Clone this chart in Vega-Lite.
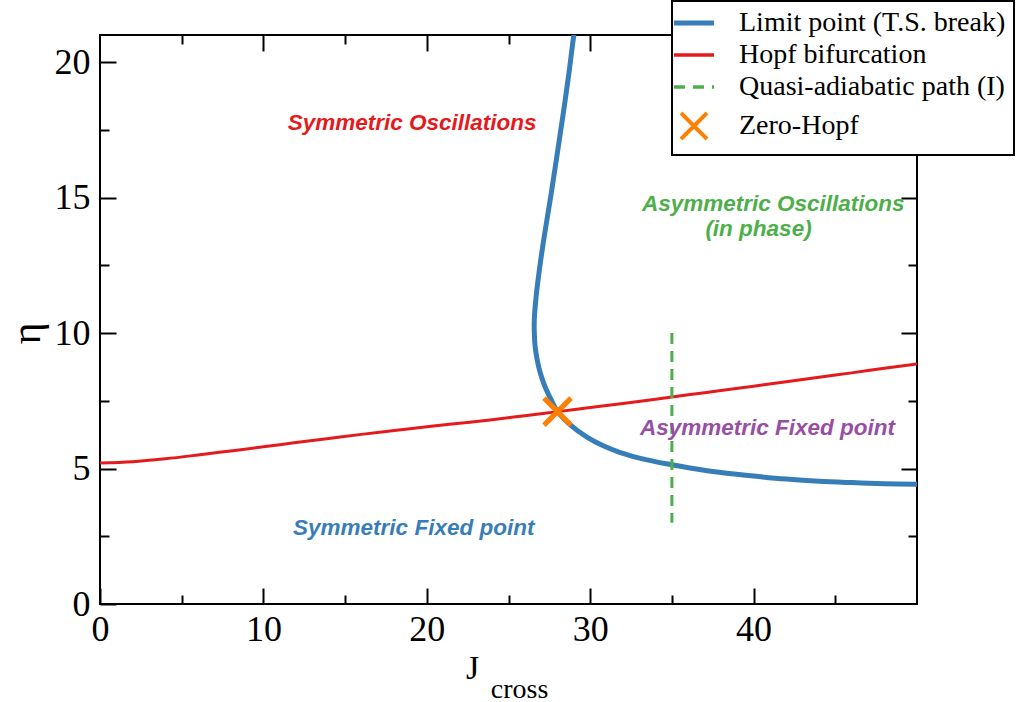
{
  "$schema": "https://vega.github.io/schema/vega-lite/v6.json",
  "width": 817,
  "height": 569,
  "autosize": {"type": "none"},
  "padding": {"left": 100, "top": 35, "right": 100, "bottom": 98},
  "background": "white",
  "config": {
    "view": {"stroke": "black", "strokeWidth": 2},
    "axis": {
      "domain": false,
      "grid": false,
      "tickColor": "black",
      "tickWidth": 2,
      "labelFont": "Liberation Serif",
      "labelFontSize": 36,
      "labelColor": "black",
      "labelFlush": false,
      "labelOverlap": false,
      "titleFont": "Liberation Serif",
      "titleColor": "black",
      "titleFontWeight": "normal"
    }
  },
  "datasets": {
    "limit": [
      {"i": 0, "x": 29.15, "y": 21.5, "series": "Limit point (T.S. break)"},
      {"i": 1, "x": 29.0, "y": 21.0, "series": "Limit point (T.S. break)"},
      {"i": 2, "x": 28.7, "y": 19.6, "series": "Limit point (T.S. break)"},
      {"i": 3, "x": 28.35, "y": 18.1, "series": "Limit point (T.S. break)"},
      {"i": 4, "x": 27.98, "y": 16.6, "series": "Limit point (T.S. break)"},
      {"i": 5, "x": 27.6, "y": 15.1, "series": "Limit point (T.S. break)"},
      {"i": 6, "x": 27.25, "y": 13.8, "series": "Limit point (T.S. break)"},
      {"i": 7, "x": 26.95, "y": 12.6, "series": "Limit point (T.S. break)"},
      {"i": 8, "x": 26.7, "y": 11.4, "series": "Limit point (T.S. break)"},
      {"i": 9, "x": 26.58, "y": 10.5, "series": "Limit point (T.S. break)"},
      {"i": 10, "x": 26.58, "y": 10.0, "series": "Limit point (T.S. break)"},
      {"i": 11, "x": 26.63, "y": 9.5, "series": "Limit point (T.S. break)"},
      {"i": 12, "x": 26.76, "y": 9.0, "series": "Limit point (T.S. break)"},
      {"i": 13, "x": 26.96, "y": 8.5, "series": "Limit point (T.S. break)"},
      {"i": 14, "x": 27.25, "y": 8.0, "series": "Limit point (T.S. break)"},
      {"i": 15, "x": 27.6, "y": 7.55, "series": "Limit point (T.S. break)"},
      {"i": 16, "x": 28.0, "y": 7.1, "series": "Limit point (T.S. break)"},
      {"i": 17, "x": 28.8, "y": 6.6, "series": "Limit point (T.S. break)"},
      {"i": 18, "x": 29.8, "y": 6.16, "series": "Limit point (T.S. break)"},
      {"i": 19, "x": 30.8, "y": 5.84, "series": "Limit point (T.S. break)"},
      {"i": 20, "x": 31.8, "y": 5.6, "series": "Limit point (T.S. break)"},
      {"i": 21, "x": 33.4, "y": 5.33, "series": "Limit point (T.S. break)"},
      {"i": 22, "x": 35.0, "y": 5.14, "series": "Limit point (T.S. break)"},
      {"i": 23, "x": 36.5, "y": 4.98, "series": "Limit point (T.S. break)"},
      {"i": 24, "x": 38.0, "y": 4.85, "series": "Limit point (T.S. break)"},
      {"i": 25, "x": 40.0, "y": 4.72, "series": "Limit point (T.S. break)"},
      {"i": 26, "x": 42.0, "y": 4.61, "series": "Limit point (T.S. break)"},
      {"i": 27, "x": 44.0, "y": 4.53, "series": "Limit point (T.S. break)"},
      {"i": 28, "x": 46.0, "y": 4.48, "series": "Limit point (T.S. break)"},
      {"i": 29, "x": 48.0, "y": 4.44, "series": "Limit point (T.S. break)"},
      {"i": 30, "x": 50.0, "y": 4.42, "series": "Limit point (T.S. break)"}
    ],
    "hopf": [
      {"x": 0, "y": 5.2, "series": "Hopf bifurcation"},
      {"x": 2, "y": 5.25, "series": "Hopf bifurcation"},
      {"x": 4, "y": 5.36, "series": "Hopf bifurcation"},
      {"x": 6, "y": 5.5, "series": "Hopf bifurcation"},
      {"x": 8, "y": 5.65, "series": "Hopf bifurcation"},
      {"x": 10, "y": 5.8, "series": "Hopf bifurcation"},
      {"x": 12, "y": 5.96, "series": "Hopf bifurcation"},
      {"x": 14, "y": 6.11, "series": "Hopf bifurcation"},
      {"x": 16, "y": 6.26, "series": "Hopf bifurcation"},
      {"x": 18, "y": 6.4, "series": "Hopf bifurcation"},
      {"x": 20, "y": 6.54, "series": "Hopf bifurcation"},
      {"x": 22, "y": 6.67, "series": "Hopf bifurcation"},
      {"x": 24, "y": 6.8, "series": "Hopf bifurcation"},
      {"x": 26, "y": 6.95, "series": "Hopf bifurcation"},
      {"x": 28, "y": 7.1, "series": "Hopf bifurcation"},
      {"x": 30, "y": 7.25, "series": "Hopf bifurcation"},
      {"x": 32, "y": 7.4, "series": "Hopf bifurcation"},
      {"x": 34, "y": 7.56, "series": "Hopf bifurcation"},
      {"x": 36, "y": 7.72, "series": "Hopf bifurcation"},
      {"x": 38, "y": 7.88, "series": "Hopf bifurcation"},
      {"x": 40, "y": 8.04, "series": "Hopf bifurcation"},
      {"x": 42, "y": 8.2, "series": "Hopf bifurcation"},
      {"x": 44, "y": 8.37, "series": "Hopf bifurcation"},
      {"x": 46, "y": 8.53, "series": "Hopf bifurcation"},
      {"x": 48, "y": 8.7, "series": "Hopf bifurcation"},
      {"x": 50, "y": 8.86, "series": "Hopf bifurcation"}
    ],
    "path": [
      {"i": 0, "x": 35, "y": 10, "series": "Quasi-adiabatic path (I)"},
      {"i": 1, "x": 35, "y": 3, "series": "Quasi-adiabatic path (I)"}
    ],
    "zerohopf": [
      {"x": 28.0, "y": 7.1, "series": "Zero-Hopf"}
    ],
    "regions": [
      {"region": "symosc", "text": "Symmetric Oscillations", "x": 19.1, "y": 17.5},
      {"region": "asymosc", "text": "Asymmetric Oscillations", "x": 41.2, "y": 14.5},
      {"region": "asymosc", "text": "(in phase)", "x": 40.3, "y": 13.6},
      {"region": "asymfix", "text": "Asymmetric Fixed point", "x": 40.85, "y": 6.24},
      {"region": "symfix", "text": "Symmetric Fixed point", "x": 19.2, "y": 2.55}
    ]
  },
  "resolve": {"axis": {"x": "independent", "y": "independent"}},
  "layer": [
    {
      "data": {"name": "limit"},
      "mark": {"type": "line", "strokeWidth": 5, "clip": true, "interpolate": "catmull-rom"},
      "encoding": {
        "x": {
          "field": "x", "type": "quantitative",
          "scale": {"domain": [0, 50], "nice": false, "zero": false},
          "axis": {
            "orient": "bottom", "values": [0, 10, 20, 30, 40],
            "tickSize": -16, "labelPadding": 24,
            "title": "J", "titleFontSize": 34,
            "titleX": 372, "titleY": 74, "titleBaseline": "alphabetic", "titleAlign": "center"
          }
        },
        "y": {
          "field": "y", "type": "quantitative",
          "scale": {"domain": [0, 21], "nice": false, "zero": false},
          "axis": {
            "orient": "left", "values": [0, 5, 10, 15, 20],
            "tickSize": -16, "labelPadding": 26,
            "title": "η", "titleFontSize": 42,
            "titleX": -74, "titleY": 298, "titleAngle": -90,
            "titleBaseline": "middle", "titleAlign": "center"
          }
        },
        "order": {"field": "i", "type": "quantitative"},
        "color": {
          "field": "series", "type": "nominal",
          "scale": {
            "domain": ["Limit point (T.S. break)", "Hopf bifurcation", "Quasi-adiabatic path (I)", "Zero-Hopf"],
            "range": ["#377eb8", "#e41a1c", "#4daf4a", "#ff7f00"]
          },
          "legend": {
            "orient": "none", "legendX": 572, "legendY": -34,
            "title": null,
            "direction": "vertical",
            "labelFont": "Liberation Serif", "labelFontSize": 28, "labelColor": "black", "labelLimit": 400,
            "labelOffset": 31,
            "symbolType": "stroke", "symbolSize": 1600, "symbolStrokeWidth": 5,
            "rowPadding": 4, "padding": 8,
            "strokeColor": "black", "fillColor": "white", "cornerRadius": 0,
            "encode": {
              "legend": {"update": {"strokeWidth": {"value": 2}}},
              "symbols": {
                "update": {
                  "shape": {"signal": "datum.value === 'Zero-Hopf' ? 'M-0.65,-0.65L0.65,0.65M0.65,-0.65L-0.65,0.65' : 'stroke'"},
                  "strokeDash": {"signal": "datum.value === 'Quasi-adiabatic path (I)' ? [11, 8] : [1, 0]"},
                  "strokeWidth": {"signal": "datum.value === 'Limit point (T.S. break)' ? 5 : datum.value === 'Zero-Hopf' ? 4 : 3.5"},
                  "fill": {"value": "transparent"},
                  "opacity": {"value": 1}
                }
              }
            }
          }
        }
      }
    },
    {
      "data": {"name": "hopf"},
      "mark": {"type": "line", "strokeWidth": 3, "clip": true, "interpolate": "monotone"},
      "encoding": {
        "x": {
          "field": "x", "type": "quantitative",
          "scale": {"domain": [0, 50], "nice": false, "zero": false},
          "axis": {
            "orient": "bottom", "values": [5, 15, 25, 35, 45],
            "tickSize": -9, "labels": false,
            "title": "cross", "titleFontSize": 28,
            "titleX": 419, "titleY": 93, "titleBaseline": "alphabetic", "titleAlign": "center"
          }
        },
        "y": {
          "field": "y", "type": "quantitative",
          "scale": {"domain": [0, 21], "nice": false, "zero": false},
          "axis": {"orient": "left", "values": [2.5, 7.5, 12.5, 17.5], "tickSize": -9, "labels": false, "title": null}
        },
        "color": {"field": "series", "type": "nominal"}
      }
    },
    {
      "data": {"name": "path"},
      "mark": {"type": "line", "strokeWidth": 3, "strokeDash": [11, 7]},
      "encoding": {
        "x": {
          "field": "x", "type": "quantitative",
          "scale": {"domain": [0, 50], "nice": false, "zero": false},
          "axis": {"orient": "top", "values": [10, 20, 30, 40], "tickSize": -16, "labels": false, "title": null}
        },
        "y": {
          "field": "y", "type": "quantitative",
          "scale": {"domain": [0, 21], "nice": false, "zero": false},
          "axis": {"orient": "right", "values": [5, 10, 15, 20], "tickSize": -16, "labels": false, "title": null}
        },
        "order": {"field": "i", "type": "quantitative"},
        "color": {"field": "series", "type": "nominal"}
      }
    },
    {
      "data": {"name": "zerohopf"},
      "mark": {
        "type": "point", "shape": "M-1,-1L1,1M1,-1L-1,1",
        "size": 729, "strokeWidth": 5, "filled": false, "opacity": 1
      },
      "encoding": {
        "x": {
          "field": "x", "type": "quantitative",
          "scale": {"domain": [0, 50], "nice": false, "zero": false},
          "axis": {"orient": "top", "values": [5, 15, 25, 35, 45], "tickSize": -9, "labels": false, "title": null}
        },
        "y": {
          "field": "y", "type": "quantitative",
          "scale": {"domain": [0, 21], "nice": false, "zero": false},
          "axis": {"orient": "right", "values": [2.5, 7.5, 12.5, 17.5], "tickSize": -9, "labels": false, "title": null}
        },
        "color": {"field": "series", "type": "nominal"}
      }
    },
    {
      "data": {"name": "regions"},
      "transform": [{"filter": "datum.region === 'symosc'"}],
      "mark": {"type": "text", "font": "Liberation Sans", "fontSize": 22.5, "fontWeight": "bold", "fontStyle": "italic", "baseline": "alphabetic", "align": "center", "color": "#e41a1c"},
      "encoding": {
        "x": {"field": "x", "type": "quantitative", "scale": {"domain": [0, 50], "nice": false, "zero": false}, "axis": null},
        "y": {"field": "y", "type": "quantitative", "scale": {"domain": [0, 21], "nice": false, "zero": false}, "axis": null},
        "text": {"field": "text"}
      }
    },
    {
      "data": {"name": "regions"},
      "transform": [{"filter": "datum.region === 'asymosc'"}],
      "mark": {"type": "text", "font": "Liberation Sans", "fontSize": 22.5, "fontWeight": "bold", "fontStyle": "italic", "baseline": "alphabetic", "align": "center", "color": "#4daf4a"},
      "encoding": {
        "x": {"field": "x", "type": "quantitative", "scale": {"domain": [0, 50], "nice": false, "zero": false}, "axis": null},
        "y": {"field": "y", "type": "quantitative", "scale": {"domain": [0, 21], "nice": false, "zero": false}, "axis": null},
        "text": {"field": "text"}
      }
    },
    {
      "data": {"name": "regions"},
      "transform": [{"filter": "datum.region === 'asymfix'"}],
      "mark": {"type": "text", "font": "Liberation Sans", "fontSize": 22.5, "fontWeight": "bold", "fontStyle": "italic", "baseline": "alphabetic", "align": "center", "color": "#984ea3"},
      "encoding": {
        "x": {"field": "x", "type": "quantitative", "scale": {"domain": [0, 50], "nice": false, "zero": false}, "axis": null},
        "y": {"field": "y", "type": "quantitative", "scale": {"domain": [0, 21], "nice": false, "zero": false}, "axis": null},
        "text": {"field": "text"}
      }
    },
    {
      "data": {"name": "regions"},
      "transform": [{"filter": "datum.region === 'symfix'"}],
      "mark": {"type": "text", "font": "Liberation Sans", "fontSize": 22.5, "fontWeight": "bold", "fontStyle": "italic", "baseline": "alphabetic", "align": "center", "color": "#377eb8"},
      "encoding": {
        "x": {"field": "x", "type": "quantitative", "scale": {"domain": [0, 50], "nice": false, "zero": false}, "axis": null},
        "y": {"field": "y", "type": "quantitative", "scale": {"domain": [0, 21], "nice": false, "zero": false}, "axis": null},
        "text": {"field": "text"}
      }
    }
  ]
}
